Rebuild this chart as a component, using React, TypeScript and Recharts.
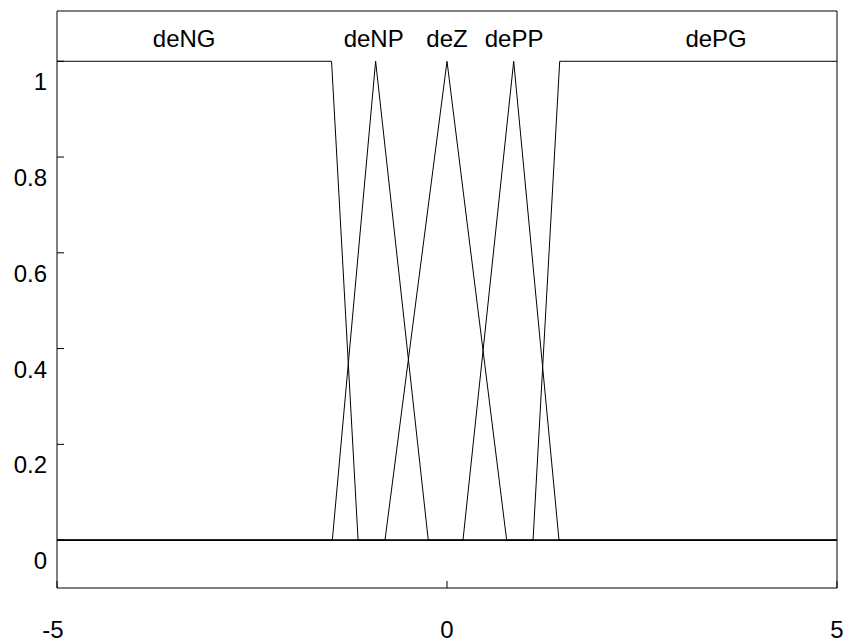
import React from 'react';
import { ComposedChart, Line, Scatter, XAxis, YAxis } from 'recharts';

// membership functions, breakpoints
const mfNames = ['deNG', 'deNP', 'deZ', 'dePP', 'dePG'];
const deNGx = [-5, -1.48, -1.14, 5];
const deNGy = [1, 1, 0, 0];
const deNPx = [-5, -1.47, -0.915, -0.24, 5];
const deNPy = [0, 0, 1, 0, 0];
const deZx = [-5, -0.795, 0, 0.765, 5];
const deZy = [0, 0, 1, 0, 0];
const dePPx = [-5, 0.205, 0.855, 1.436, 5];
const dePPy = [0, 0, 1, 0, 0];
const dePGx = [-5, 1.103, 1.445, 5];
const dePGy = [0, 0, 1, 1];

// label anchor positions
const labelX = [-3.37, -0.94, 0, 0.86, 3.45];
const labelY = 1.029;

const xTicks = [-5, 0, 5];
const yTicks = [0, 0.2, 0.4, 0.6, 0.8, 1];

const FONT = '"Liberation Sans", Arial, sans-serif';

const toPts = (xs: number[], ys: number[]) => xs.map((x, i) => ({ x, y: ys[i] }));

const series = [
  toPts(deNGx, deNGy),
  toPts(deNPx, deNPy),
  toPts(deZx, deZy),
  toPts(dePPx, dePPy),
  toPts(dePGx, dePGy),
];

const labels = mfNames.map((name, i) => ({ x: labelX[i], y: labelY, name }));

const BottomTick = (props: any) => {
  const { x, y, payload } = props;
  const dx = payload.value < 0 ? -4 : 0;
  return (
    <g>
      <line x1={x} x2={x} y1={y} y2={y - 7} stroke="#000" strokeWidth={1} />
      <text x={x + dx} y={y + 41} dy="0.355em" textAnchor="middle" fontSize={24} fontFamily={FONT} fill="#000">
        {payload.value}
      </text>
    </g>
  );
};

const TopTick = (props: any) => {
  const { x, y } = props;
  return <line x1={x} x2={x} y1={y} y2={y + 7} stroke="#000" strokeWidth={1} />;
};

const LeftTick = (props: any) => {
  const { x, y, payload } = props;
  return (
    <g>
      <line x1={x} x2={x + 7} y1={y} y2={y} stroke="#000" strokeWidth={1} />
      <text x={x - 10} y={y + 20.5} dy="0.355em" textAnchor="end" fontSize={24} fontFamily={FONT} fill="#000">
        {payload.value}
      </text>
    </g>
  );
};

const RightTick = (props: any) => {
  const { x, y } = props;
  return <line x1={x - 7} x2={x} y1={y} y2={y} stroke="#000" strokeWidth={1} />;
};

const MfLabel = (props: any) => {
  const { cx, cy, payload } = props;
  return (
    <text x={cx} y={cy} textAnchor="middle" fontSize={24} fontFamily={FONT} fill="#000">
      {payload.name}
    </text>
  );
};

export default function App() {
  return (
    <div style={{ position: 'absolute', left: 0, top: 0, width: 847, height: 643, background: '#fff' }}>
      <ComposedChart
        width={847}
        height={643}
        margin={{ top: 0, right: 0, bottom: 0, left: 0 }}
        style={{ overflow: 'visible' }}
      >
        <XAxis
          dataKey="x"
          type="number"
          domain={[-5, 5]}
          ticks={xTicks}
          height={55}
          tickSize={0}
          tickMargin={0}
          axisLine={{ stroke: '#000' }}
          tickLine={false}
          tick={<BottomTick />}
        />
        <XAxis
          xAxisId="t"
          orientation="top"
          dataKey="x"
          type="number"
          domain={[-5, 5]}
          ticks={xTicks}
          height={11}
          tickSize={0}
          tickMargin={0}
          axisLine={{ stroke: '#000' }}
          tickLine={false}
          tick={<TopTick />}
        />
        <YAxis
          type="number"
          domain={[-0.1, 1.105]}
          ticks={yTicks}
          width={57}
          tickSize={0}
          tickMargin={0}
          axisLine={{ stroke: '#000' }}
          tickLine={false}
          tick={<LeftTick />}
        />
        <YAxis
          yAxisId="r"
          orientation="right"
          type="number"
          domain={[-0.1, 1.105]}
          ticks={yTicks}
          width={10}
          tickSize={0}
          tickMargin={0}
          axisLine={{ stroke: '#000' }}
          tickLine={false}
          tick={<RightTick />}
        />
        {series.map((pts, i) => (
          <Line
            key={mfNames[i]}
            data={pts}
            dataKey="y"
            type="linear"
            stroke="#000"
            strokeWidth={1}
            dot={false}
            activeDot={false}
            isAnimationActive={false}
          />
        ))}
        <Scatter data={labels} dataKey="y" shape={<MfLabel />} isAnimationActive={false} />
      </ComposedChart>
    </div>
  );
}
